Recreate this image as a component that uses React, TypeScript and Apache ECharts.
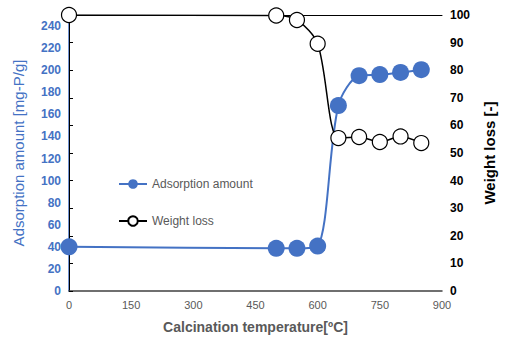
import React, { useEffect, useRef } from "react";
import * as echarts from "echarts";

const temps = [0, 500, 550, 600, 650, 700, 750, 800, 850];
const adsorption = [40, 38.7, 38.7, 40.7, 168, 195, 196, 198, 200.5];
const weightLoss = [100, 99.8, 98.2, 89.6, 55.4, 55.8, 54, 56, 53.6];

export default function App() {
  const ref = useRef<HTMLDivElement>(null);
  useEffect(() => {
    const chart = echarts.init(ref.current!, null, { renderer: "svg" });
    const font = "Liberation Sans, Arial, sans-serif";
    chart.setOption({
      animation: false,
      grid: { left: 69, right: 59, top: 15, bottom: 46 },
      legend: {
        orient: "vertical",
        left: 113,
        top: 173,
        itemGap: 25,
        itemWidth: 28,
        itemHeight: 12,
        textStyle: { color: "#595959", fontSize: 12, fontFamily: font },
        data: ["Adsorption amount", "Weight loss"],
      },
      xAxis: [
        {
          type: "value",
          min: 0,
          max: 900,
          interval: 150,
          name: "Calcination temperature[ºC]",
          nameLocation: "middle",
          nameGap: 29,
          nameTextStyle: { color: "#595959", fontSize: 14, fontWeight: "bold", fontFamily: font },
          axisLine: { show: true, lineStyle: { color: "#404040", width: 1.5 } },
          axisTick: { show: false },
          splitLine: { show: false },
          axisLabel: { color: "#595959", fontSize: 11, fontFamily: font, margin: 8 },
        },
        {
          type: "value",
          position: "top",
          min: 0,
          max: 900,
          axisLine: { show: true, onZero: false, lineStyle: { color: "#000", width: 1 } },
          axisTick: { show: false },
          axisLabel: { show: false },
          splitLine: { show: false },
        },
      ],
      yAxis: [
        {
          type: "value",
          min: 0,
          max: 250,
          interval: 20,
          name: "Adsorption amount [mg-P/g]",
          nameLocation: "middle",
          nameGap: 43,
          nameTextStyle: { color: "#4472C4", fontSize: 15, fontFamily: font },
          axisLine: { show: true, lineStyle: { color: "#4472C4", width: 1.5 } },
          axisTick: { show: false },
          splitLine: { show: false },
          axisLabel: {
            color: "#4472C4",
            fontSize: 12,
            fontWeight: "bold",
            fontFamily: font,
            margin: 8,
            formatter: (v: number) => (v > 240 ? "" : String(v)),
          },
        },
        {
          type: "value",
          min: 0,
          max: 100,
          interval: 10,
          position: "right",
          name: "Weight loss [-]",
          nameLocation: "middle",
          nameGap: 40,
          nameTextStyle: { color: "#000", fontSize: 15, fontWeight: "bold", fontFamily: font },
          axisLine: { show: true, lineStyle: { color: "#000", width: 1 } },
          axisTick: { show: true, length: 4, lineStyle: { color: "#000" } },
          splitLine: { show: false },
          axisLabel: { color: "#000", fontSize: 12, fontWeight: "bold", fontFamily: font, margin: 8 },
        },
      ],
      series: [
        {
          name: "Adsorption amount",
          type: "line",
          yAxisIndex: 0,
          data: temps.map((t, i) => [t, adsorption[i]]),
          smooth: 0.3,
          symbol: "circle",
          symbolSize: 17,
          itemStyle: { color: "#4472C4" },
          lineStyle: { color: "#4472C4", width: 2 },
          z: 2,
        },
        {
          name: "Weight loss",
          type: "line",
          yAxisIndex: 1,
          data: temps.map((t, i) => [t, weightLoss[i]]),
          smooth: 0.3,
          symbol: "circle",
          symbolSize: 15,
          itemStyle: { color: "#fff", borderColor: "#000", borderWidth: 1.2 },
          lineStyle: { color: "#000", width: 1.5 },
          z: 3,
        },
      ],
    });
    return () => chart.dispose();
  }, []);
  return (
    <div
      ref={ref}
      style={{ position: "absolute", left: 0, top: 0, width: 505, height: 339 }}
    />
  );
}
